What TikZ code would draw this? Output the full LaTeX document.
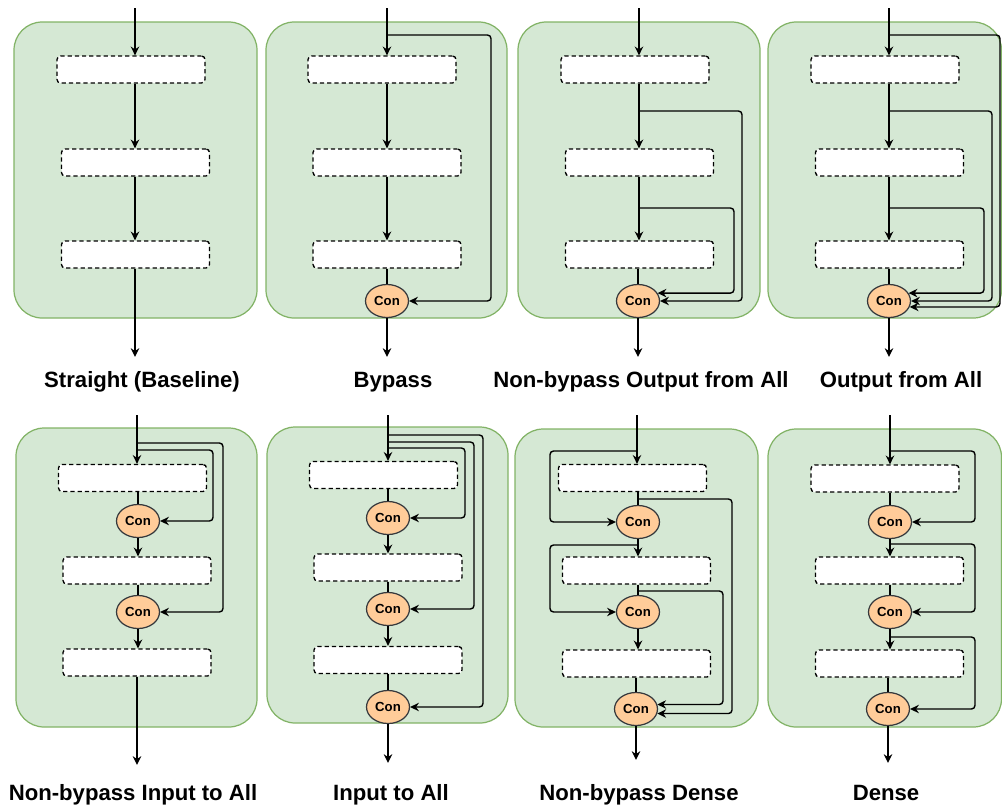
\documentclass[tikz,border=0pt]{standalone}
\usepackage{fontspec}
\setmainfont{Liberation Sans}
\usepackage{xcolor}
\usetikzlibrary{arrows.meta, positioning, shapes.geometric}
\definecolor{panelfill}{HTML}{D5E8D4}
\definecolor{paneldraw}{HTML}{82B366}
\definecolor{confill}{HTML}{FFCC99}
\definecolor{condraw}{HTML}{36393D}

\begin{document}
\begin{tikzpicture}[x=0.02cm, y=-0.02cm,
    panel/.style={draw=paneldraw, fill=panelfill, rounded corners=16pt, line width=0.7pt},
    layer/.style={draw, dash pattern=on 2.4pt off 1.7pt, fill=white, rounded corners=2pt,
      minimum width=2.96cm, minimum height=0.54cm, inner sep=0pt, line width=0.75pt},
    con/.style={ellipse, draw=condraw, fill=confill, minimum width=0.86cm, minimum height=0.66cm,
      inner sep=0pt, line width=0.7pt, font=\bfseries\fontsize{7.5}{8}\selectfont},
    flow/.style={-{Stealth[length=5pt,width=4.8pt]}, line width=0.8pt},
    link/.style={line width=0.8pt},
    skip/.style={-{Stealth[length=5pt,width=4.8pt]}, line width=0.8pt, rounded corners=2pt},
    title/.style={anchor=base, font=\bfseries\fontsize{12.6}{14}\selectfont}]
  \useasboundingbox (0,0) rectangle (1002,806);

  % Straight (Baseline)
  \draw[panel] (14,22) rectangle (257,318);
  \node[layer] (p1b1) at (131,69.5) {};
  \node[layer] (p1b2) at (135.5,162.5) {};
  \node[layer] (p1b3) at (135.5,254.5) {};
  \coordinate (p1in) at (135,8);
  \coordinate (p1out) at (135,357);
  \draw[flow] (p1in) -- (p1in |- p1b1.north);
  \draw[flow] (p1in |- p1b1.south) -- (p1in |- p1b2.north);
  \draw[flow] (p1in |- p1b2.south) -- (p1in |- p1b3.north);
  \draw[flow] (p1in |- p1b3.south) -- (p1out);
  \node[title] at (142,387) {Straight (Baseline)};

  % Bypass
  \draw[panel] (266,22) rectangle (507,318);
  \node[layer] (p2b1) at (382,69.5) {};
  \node[layer] (p2b2) at (387,162.5) {};
  \node[layer] (p2b3) at (387,254.5) {};
  \node[con] (p2c) at (387,301) {Con};
  \coordinate (p2in) at (387,8);
  \coordinate (p2out) at (387,357);
  \coordinate (p2t) at (387,35);
  \draw[flow] (p2in) -- (p2in |- p2b1.north);
  \draw[flow] (p2in |- p2b1.south) -- (p2in |- p2b2.north);
  \draw[flow] (p2in |- p2b2.south) -- (p2in |- p2b3.north);
  \draw[link] (p2in |- p2b3.south) -- (p2c.north);
  \draw[flow] (p2c.south) -- (p2out);
  \draw[skip] (p2t) -- ++(104,0) |- (p2c.east);
  \node[title] at (393,387) {Bypass};

  % Non-bypass Output from All
  \draw[panel] (518,22) rectangle (760,318);
  \node[layer] (p3b1) at (635,69.5) {};
  \node[layer] (p3b2) at (639.5,162.5) {};
  \node[layer] (p3b3) at (639.5,254.5) {};
  \node[con] (p3c) at (638,301) {Con};
  \coordinate (p3in) at (639,8);
  \coordinate (p3out) at (638,357);
  \coordinate (p3t1) at (639,111);
  \coordinate (p3t2) at (639,208);
  \draw[flow] (p3in) -- (p3in |- p3b1.north);
  \draw[flow] (p3in |- p3b1.south) -- (p3in |- p3b2.north);
  \draw[flow] (p3in |- p3b2.south) -- (p3in |- p3b3.north);
  \draw[link] (p3c.north |- p3b3.south) -- (p3c.north);
  \draw[flow] (p3c.south) -- (p3out);
  \draw[skip] (p3t1) -- ++(103,0) |- (p3c.east);
  \draw[skip] (p3t2) -- ++(95,0) |- (p3c.22);
  \node[title] at (641,387) {Non-bypass Output from All};

  % Output from All
  \draw[panel] (768,22) rectangle (1001.5,318);
  \node[layer] (p4b1) at (885,69.5) {};
  \node[layer] (p4b2) at (889.5,162.5) {};
  \node[layer] (p4b3) at (889.5,254.5) {};
  \node[con] (p4c) at (889,301) {Con};
  \coordinate (p4in) at (889,8);
  \coordinate (p4out) at (889,357);
  \coordinate (p4t0) at (889,35);
  \coordinate (p4t1) at (889,111);
  \coordinate (p4t2) at (889,208);
  \draw[flow] (p4in) -- (p4in |- p4b1.north);
  \draw[flow] (p4in |- p4b1.south) -- (p4in |- p4b2.north);
  \draw[flow] (p4in |- p4b2.south) -- (p4in |- p4b3.north);
  \draw[link] (p4c.north |- p4b3.south) -- (p4c.north);
  \draw[flow] (p4c.south) -- (p4out);
  \draw[skip] (p4t0) -- ++(111,0) |- (p4c.-16);
  \draw[skip] (p4t1) -- ++(103,0) |- (p4c.east);
  \draw[skip] (p4t2) -- ++(95,0) |- (p4c.22);
  \node[title] at (901,387) {Output from All};

  % Non-bypass Input to All
  \draw[panel] (16,428) rectangle (257,727);
  \node[layer] (p5b1) at (132.5,478) {};
  \node[con] (p5c1) at (138,521) {Con};
  \node[layer] (p5b2) at (137,570.5) {};
  \node[con] (p5c2) at (138,612) {Con};
  \node[layer] (p5b3) at (137,662.5) {};
  \coordinate (p5in) at (137,415);
  \coordinate (p5out) at (137,765);
  \coordinate (p5t1) at (137,443);
  \coordinate (p5t2) at (137,450);
  \draw[flow] (p5in) -- (p5in |- p5b1.north);
  \draw[link] (p5c1.north |- p5b1.south) -- (p5c1.north);
  \draw[flow] (p5c1.south) -- (p5c1.south |- p5b2.north);
  \draw[link] (p5c2.north |- p5b2.south) -- (p5c2.north);
  \draw[flow] (p5c2.south) -- (p5c2.south |- p5b3.north);
  \draw[flow] (p5in |- p5b3.south) -- (p5out);
  \draw[skip] (p5t1) -- ++(86,0) |- (p5c2.east);
  \draw[skip] (p5t2) -- ++(76,0) |- (p5c1.east);
  \node[title] at (133,800) {Non-bypass Input to All};

  % Input to All
  \draw[panel] (267,427) rectangle (508,723);
  \node[layer] (p6b1) at (383.5,475) {};
  \node[con] (p6c1) at (388,518) {Con};
  \node[layer] (p6b2) at (388,567.5) {};
  \node[con] (p6c2) at (388,609) {Con};
  \node[layer] (p6b3) at (388,660) {};
  \node[con] (p6c3) at (388,707) {Con};
  \coordinate (p6in) at (388,415);
  \coordinate (p6out) at (388,763);
  \coordinate (p6t1) at (388,435);
  \coordinate (p6t2) at (388,442);
  \coordinate (p6t3) at (388,448);
  \draw[flow] (p6in) -- (p6in |- p6b1.north);
  \draw[link] (p6c1.north |- p6b1.south) -- (p6c1.north);
  \draw[flow] (p6c1.south) -- (p6c1.south |- p6b2.north);
  \draw[link] (p6c2.north |- p6b2.south) -- (p6c2.north);
  \draw[flow] (p6c2.south) -- (p6c2.south |- p6b3.north);
  \draw[link] (p6c3.north |- p6b3.south) -- (p6c3.north);
  \draw[flow] (p6c3.south) -- (p6out);
  \draw[skip] (p6t1) -- ++(95,0) |- (p6c3.east);
  \draw[skip] (p6t2) -- ++(86,0) |- (p6c2.east);
  \draw[skip] (p6t3) -- ++(77,0) |- (p6c1.east);
  \node[title] at (391,800) {Input to All};

  % Non-bypass Dense
  \draw[panel] (515,429) rectangle (758,727);
  \node[layer] (p7b1) at (632.5,478) {};
  \node[con] (p7c1) at (638,522) {Con};
  \node[layer] (p7b2) at (636.5,570.5) {};
  \node[con] (p7c2) at (638,612) {Con};
  \node[layer] (p7b3) at (636.5,663.5) {};
  \node[con] (p7c3) at (636,709) {Con};
  \coordinate (p7in) at (637,415);
  \coordinate (p7out) at (636,760);
  \coordinate (p7l1) at (637,451);
  \coordinate (p7l2) at (638,545);
  \coordinate (p7r1) at (638,499);
  \coordinate (p7r2) at (638,591);
  \draw[flow] (p7in) -- (p7in |- p7b1.north);
  \draw[link] (p7c1.north |- p7b1.south) -- (p7c1.north);
  \draw[flow] (p7c1.south) -- (p7c1.south |- p7b2.north);
  \draw[link] (p7c2.north |- p7b2.south) -- (p7c2.north);
  \draw[flow] (p7c2.south) -- (p7c2.south |- p7b3.north);
  \draw[link] (p7c3.north |- p7b3.south) -- (p7c3.north);
  \draw[flow] (p7c3.south) -- (p7out);
  \draw[skip] (p7l1) -- ++(-87,0) |- (p7c1.west);
  \draw[skip] (p7l2) -- ++(-88,0) |- (p7c2.west);
  \draw[skip] (p7r1) -- ++(94,0) |- (p7c3.-12);
  \draw[skip] (p7r2) -- ++(85,0) |- (p7c3.12);
  \node[title] at (639,800) {Non-bypass Dense};

  % Dense
  \draw[panel] (768,429) rectangle (1001.5,727);
  \node[layer] (p8b1) at (885,478.5) {};
  \node[con] (p8c1) at (890,522) {Con};
  \node[layer] (p8b2) at (889.5,570.5) {};
  \node[con] (p8c2) at (890,612) {Con};
  \node[layer] (p8b3) at (889.5,663.5) {};
  \node[con] (p8c3) at (888,709) {Con};
  \coordinate (p8in) at (890,415);
  \coordinate (p8out) at (888,763);
  \coordinate (p8t1) at (890,451);
  \coordinate (p8t2) at (890,544);
  \coordinate (p8t3) at (890,637);
  \draw[flow] (p8in) -- (p8in |- p8b1.north);
  \draw[link] (p8c1.north |- p8b1.south) -- (p8c1.north);
  \draw[flow] (p8c1.south) -- (p8c1.south |- p8b2.north);
  \draw[link] (p8c2.north |- p8b2.south) -- (p8c2.north);
  \draw[flow] (p8c2.south) -- (p8c2.south |- p8b3.north);
  \draw[link] (p8c3.north |- p8b3.south) -- (p8c3.north);
  \draw[flow] (p8c3.south) -- (p8out);
  \draw[skip] (p8t1) -- ++(85,0) |- (p8c1.east);
  \draw[skip] (p8t2) -- ++(85,0) |- (p8c2.east);
  \draw[skip] (p8t3) -- ++(85,0) |- (p8c3.east);
  \node[title] at (886,800) {Dense};
\end{tikzpicture}
\end{document}
